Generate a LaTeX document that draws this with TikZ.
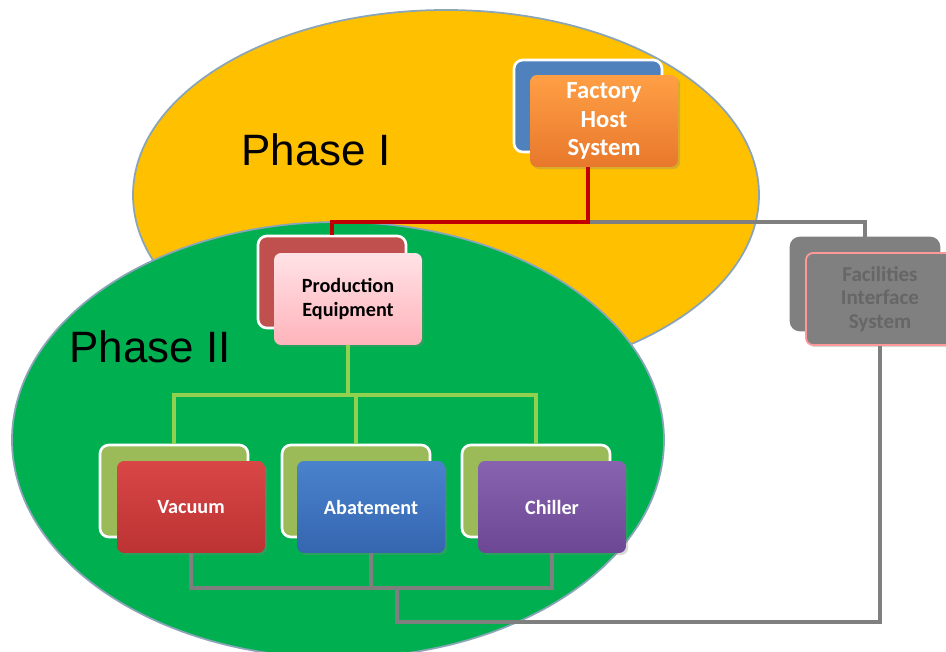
\documentclass[tikz,border=0pt]{standalone}
\usepackage{fontspec}
\setmainfont{Carlito}
\newfontfamily\phasefont{Liberation Sans}
\usepackage{tikz}
\usetikzlibrary{shapes,calc,shadows}
\definecolor{phaseyellow}{HTML}{FFC000}
\definecolor{phasegreen}{HTML}{00B050}
\definecolor{rimcol}{HTML}{8AA4B8}
\definecolor{hostblue}{HTML}{4F81BD}
\definecolor{equipred}{HTML}{C0504D}
\definecolor{subolive}{HTML}{9BBB59}
\definecolor{busred}{HTML}{C00000}
\definecolor{busgray}{HTML}{7F7F7F}
\definecolor{busgreen}{HTML}{92D050}
\definecolor{hosttop}{HTML}{FF9F45}
\definecolor{hostbot}{HTML}{E8782C}
\definecolor{equiptop}{HTML}{FFE2E6}
\definecolor{equipbot}{HTML}{FFB4BB}
\definecolor{vactop}{HTML}{D94646}
\definecolor{vacbot}{HTML}{BC3333}
\definecolor{abtop}{HTML}{4A82CC}
\definecolor{abbot}{HTML}{3566B0}
\definecolor{chtop}{HTML}{8763B0}
\definecolor{chbot}{HTML}{6C4894}
\tikzstyle{phase} = [draw=rimcol, line width=1pt]
\tikzstyle{backbox} = [draw=white, line width=1.5pt, rounded corners=5pt, minimum width=2.96cm, minimum height=1.84cm]
\tikzstyle{frontbox} = [rounded corners=4pt, minimum width=2.96cm, minimum height=1.84cm, text width=2.7cm, align=center, inner sep=0pt, font=\bfseries\fontsize{11.5}{13.5}\selectfont, drop shadow={opacity=0.3, shadow xshift=1.2pt, shadow yshift=-1.2pt}]
\tikzstyle{redbus} = [draw=busred, line width=2.3pt]
\tikzstyle{graybus} = [draw=busgray, line width=1.8pt]
\tikzstyle{greenbus} = [draw=busgreen, line width=1.8pt]

\begin{document}
\begin{tikzpicture}[x=0.02cm, y=-0.02cm]
    \useasboundingbox (0,0) rectangle (946,652);
    % the two phases
    \path[phase, fill=phaseyellow] (446,195) ellipse [x radius=313, y radius=185];
    \path[phase, fill=phasegreen] (338,440) ellipse [x radius=326, y radius=218];
    \node[font=\phasefont\fontsize{25}{30}\selectfont] (p1) at (316,150) {Phase I};
    \node[font=\phasefont\fontsize{25}{30}\selectfont] (p2) at (150,347) {Phase II};
    % boxes
    \node[backbox, fill=hostblue] (fhsback) at (588,106) {};
    \node[frontbox, top color=hosttop, bottom color=hostbot, text=white, font=\bfseries\fontsize{14}{16}\selectfont] (fhs) at (604,121) {Factory\\Host\\System};
    \node[backbox, fill=equipred] (peback) at (332,282) {};
    \node[frontbox, top color=equiptop, bottom color=equipbot, text=black] (pe) at (348,299) {Production\\Equipment};
    \node[backbox, draw=gray, fill=gray] (fisback) at (865,284) {};
    \node[frontbox, fill=gray, draw=red!40, line width=1pt, text=black!60, font=\bfseries\fontsize{12}{13.5}\selectfont] (fis) at (880,299) {Facilities\\Interface\\System};
    \node[backbox, fill=subolive] (vacback) at (174,491) {};
    \node[frontbox, top color=vactop, bottom color=vacbot, text=white] (vac) at (191,507) {Vacuum};
    \node[backbox, fill=subolive] (abback) at (356,491) {};
    \node[frontbox, top color=abtop, bottom color=abbot, text=white] (ab) at (371,507) {Abatement};
    \node[backbox, fill=subolive] (chback) at (536,491) {};
    \node[frontbox, top color=chtop, bottom color=chbot, text=white] (ch) at (552,507) {Chiller};
    % connectors
    \coordinate (top) at (588,222);
    \coordinate (mid) at (348,395);
    \coordinate (low) at (397,588);
    \coordinate (foot) at (397,622);
    \path[graybus] (top) -| (fisback.north);
    \path[redbus] (top |- fhs.south) -- (top) -| (peback.north);
    \path[greenbus] (pe.south) -- (mid);
    \path[greenbus] (vacback.north) |- (mid) -| (chback.north);
    \path[greenbus] (mid) -| (abback.north);
    \path[graybus] (vac.south) |- (low) -| (ch.south);
    \path[graybus] (ab.south) -- (ab.south |- low);
    \path[graybus] (low) -- (foot) -| (fis.south);
\end{tikzpicture}
\end{document}
